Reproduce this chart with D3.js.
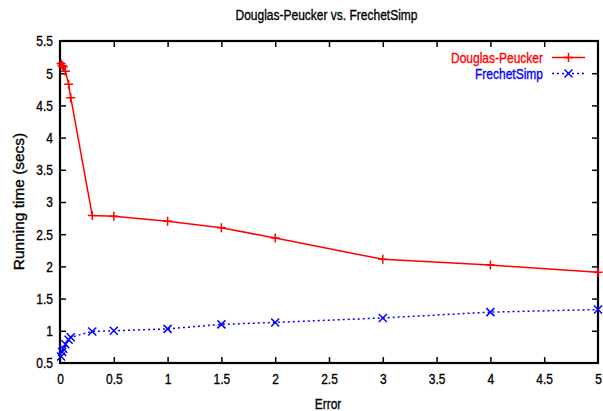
<!DOCTYPE html>
<html><head><meta charset="utf-8">
<script src="https://cdn.jsdelivr.net/npm/d3@7"></script>
<style>body{margin:0;background:#fff}text{font-family:"Liberation Sans",Arial,sans-serif}</style>
</head><body><svg id="c" width="603" height="411"></svg>
<script>
const errors = [0.01, 0.02, 0.03, 0.05, 0.08, 0.1, 0.3, 0.5, 1, 1.5, 2, 3, 4, 5];
const dpTimes = [5.15, 5.12, 5.1, 5.03, 4.83, 4.62, 2.79, 2.78, 2.7, 2.6, 2.44, 2.11, 2.02, 1.91];
const fsTimes = [0.6, 0.67, 0.72, 0.79, 0.86, 0.9, 0.99, 1.0, 1.03, 1.1, 1.13, 1.2, 1.29, 1.33];
const xTicks = [0, 0.5, 1, 1.5, 2, 2.5, 3, 3.5, 4, 4.5, 5];
const yTicks = [0.5, 1, 1.5, 2, 2.5, 3, 3.5, 4, 4.5, 5, 5.5];
const seriesNames = ["Douglas-Peucker", "FrechetSimp"];
const seriesColors = ["#ff0000", "#0000ff"];

const L = 60, R = 598, T = 41, B = 363;
const SX = 0.8; // condensed font look
const svg = d3.select("#c");
const x = d3.scaleLinear().domain([0, 5]).range([L, R]);
const y = d3.scaleLinear().domain([0.5, 5.5]).range([B, T]);
const fmt = d => String(d);
const tk = 6;

const xa = d3.axisBottom(x).tickValues(xTicks).tickFormat(fmt).tickSize(-tk).tickPadding(10);
const ya = d3.axisLeft(y).tickValues(yTicks).tickFormat(fmt).tickSize(-tk).tickPadding(7);
const gx = svg.append("g").attr("transform", `translate(0,${B})`).call(xa);
const gy = svg.append("g").attr("transform", `translate(${L},0)`).call(ya);
const gx2 = svg.append("g").attr("transform", `translate(0,${T})`).call(d3.axisTop(x).tickValues(xTicks).tickFormat("").tickSize(-tk));
const gy2 = svg.append("g").attr("transform", `translate(${R},0)`).call(d3.axisRight(y).tickValues(yTicks).tickFormat("").tickSize(-tk));
[gx, gy, gx2, gy2].forEach(g => {
  g.select(".domain").remove();
  g.selectAll(".tick line").attr("stroke", "#000").attr("stroke-width", 1.5);
  g.selectAll("text").attr("font-size", 15).attr("fill", "#000").attr("stroke", "#000").attr("stroke-width", 0.35);
});
gx.selectAll(".tick text").attr("transform", `scale(${SX},1)`);
gy.selectAll(".tick text").attr("x", 0).attr("transform", `translate(-7,0) scale(${SX},1)`);
gx.selectAll(".tick").filter(d => d === 0 || d === 5).select("line").remove();
gx2.selectAll(".tick").filter(d => d === 0 || d === 5).select("line").remove();
gy.selectAll(".tick").filter(d => d === 0.5 || d === 5.5).select("line").remove();
gy2.selectAll(".tick").filter(d => d === 0.5 || d === 5.5).select("line").remove();

svg.append("rect").attr("x", L).attr("y", T).attr("width", R - L).attr("height", B - T)
  .attr("fill", "none").attr("stroke", "#000").attr("stroke-width", 2.2);

const ctext = (tx, ty, s, anchor, size, fill, sx) => svg.append("text")
  .attr("transform", `translate(${tx},${ty}) scale(${sx},1)`)
  .attr("text-anchor", anchor).attr("font-size", size).attr("fill", fill)
  .attr("stroke", fill).attr("stroke-width", 0.35).text(s);

ctext(326.5, 20, "Douglas-Peucker vs. FrechetSimp", "middle", 15, "#000", SX);
ctext(328, 409, "Error", "middle", 15, "#000", SX);
svg.append("text").attr("transform", "translate(23.5,201.5) rotate(-90) scale(1.03,1)").attr("text-anchor", "middle")
  .attr("font-size", 15).attr("stroke", "#000").attr("stroke-width", 0.35).text("Running time (secs)");

const line = d3.line().x((d, i) => x(errors[i])).y(d => y(d));
const plus = (g, cx, cy, c, s) => g.append("path").attr("d", `M${cx - s},${cy}H${cx + s}M${cx},${cy - s}V${cy + s}`).attr("stroke", c).attr("stroke-width", 1.5).attr("fill", "none");
const cross = (g, cx, cy, c, s) => g.append("path").attr("d", `M${cx - s},${cy - s}L${cx + s},${cy + s}M${cx - s},${cy + s}L${cx + s},${cy - s}`).attr("stroke", c).attr("stroke-width", 1.5).attr("fill", "none");

const data = [dpTimes, fsTimes];
data.forEach((vals, si) => {
  const c = seriesColors[si];
  const g = svg.append("g");
  g.append("path").attr("d", line(vals)).attr("fill", "none").attr("stroke", c).attr("stroke-width", 1.5)
    .attr("stroke-dasharray", si === 1 ? "2,3" : null);
  vals.forEach((v, i) => si === 0 ? plus(g, x(errors[i]), y(v), c, 4.5) : cross(g, x(errors[i]), y(v), c, 4));
  const ly = 57.5 + si * 16;
  ctext(543, ly + 5.5, seriesNames[si], "end", 15, c, SX);
  g.append("line").attr("x1", 552).attr("x2", 585).attr("y1", ly).attr("y2", ly).attr("stroke", c).attr("stroke-width", 1.5)
    .attr("stroke-dasharray", si === 1 ? "2,3" : null);
  si === 0 ? plus(g, 568.5, ly, c, 4.5) : cross(g, 568.5, ly, c, 4);
});
</script></body></html>
